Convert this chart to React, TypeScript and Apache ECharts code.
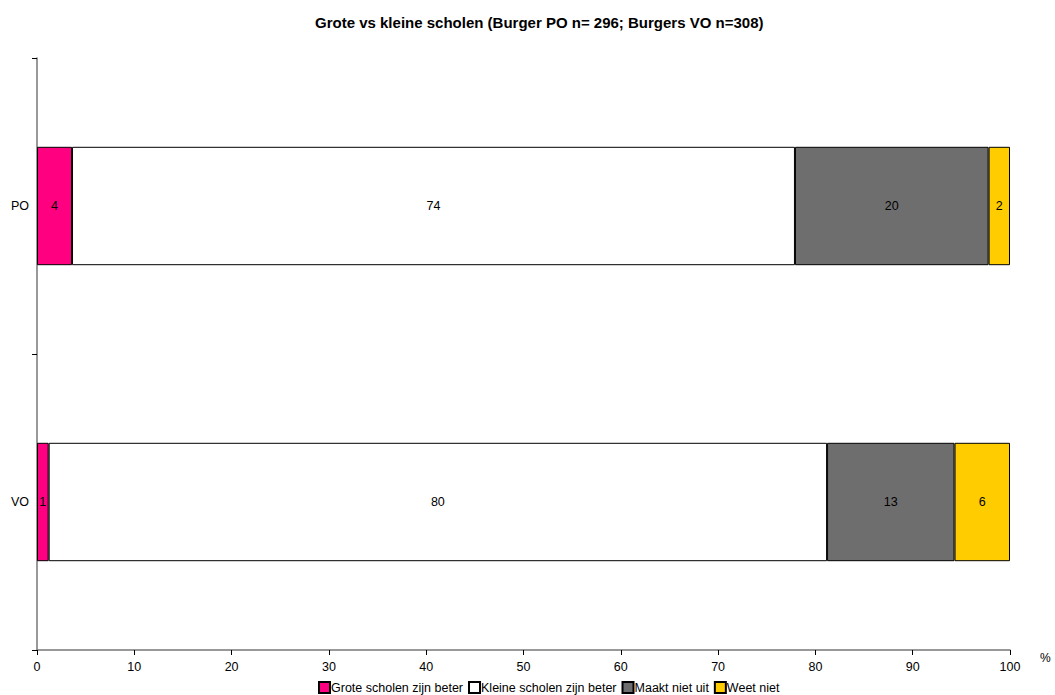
import React, { useEffect, useRef } from "react";
import * as echarts from "echarts";

const categories = ["PO", "VO"];
const seriesNames = [
  "Grote scholen zijn beter",
  "Kleine scholen zijn beter",
  "Maakt niet uit",
  "Weet niet",
];
const groteValues = [3.6, 1.2];
const kleineValues = [74.3, 80.0];
const maaktValues = [19.9, 13.1];
const weetValues = [2.2, 5.7];
const xTicks = [0, 10, 20, 30, 40, 50, 60, 70, 80, 90, 100];
const colors = ["#FF0080", "#FFFFFF", "#6E6E6E", "#FFCC00"];

const FONT = "'Liberation Sans', Arial, sans-serif";

export default function App() {
  const ref = useRef<HTMLDivElement>(null);
  useEffect(() => {
    if (!ref.current) return;
    const chart = echarts.init(ref.current, null, { renderer: "svg" });
    const values = [groteValues, kleineValues, maaktValues, weetValues];
    chart.setOption({
      animation: false,
      textStyle: { fontFamily: FONT, color: "#000" },
      title: {
        text: "Grote vs kleine scholen (Burger PO n= 296; Burgers VO n=308)",
        left: 310,
        top: 10,
        textStyle: { fontSize: 15, fontWeight: "bold", color: "#000", fontFamily: FONT },
      },
      legend: {
        top: 681,
        left: 318,
        padding: 0,
        itemWidth: 11,
        itemHeight: 11,
        itemGap: 5,
        icon: "rect",
        textStyle: { fontSize: 12.5, color: "#000", fontFamily: FONT, padding: [0, 0, 0, -4] },
        data: seriesNames,
      },
      grid: { left: 37, right: 45, top: 58, bottom: 45, containLabel: false },
      xAxis: {
        type: "value",
        min: xTicks[0],
        max: xTicks[xTicks.length - 1],
        interval: 10,
        name: "%",
        nameLocation: "end",
        nameGap: 30,
        nameTextStyle: { fontSize: 12, color: "#000", verticalAlign: "top", padding: [2, 0, 0, 0] },
        axisLine: { show: true, lineStyle: { color: "#777", width: 1.5 } },
        axisTick: { show: true, length: 5, lineStyle: { color: "#000" } },
        axisLabel: { fontSize: 12.5, color: "#000", margin: 10 },
        splitLine: { show: false },
      },
      yAxis: {
        type: "category",
        data: categories,
        inverse: true,
        axisLine: { show: true, lineStyle: { color: "#777", width: 1.5 } },
        axisTick: { show: true, length: 5, alignWithLabel: false, lineStyle: { color: "#000" } },
        axisLabel: { fontSize: 12.5, color: "#000", margin: 8 },
      },
      series: seriesNames.map((name, i) => ({
        name,
        type: "bar",
        stack: "total",
        barWidth: "40%",
        data: values[i],
        itemStyle: { color: colors[i], borderColor: "#000", borderWidth: 1 },
        label: {
          show: true,
          position: "inside",
          color: "#000",
          fontSize: 12.5,
          fontFamily: FONT,
          formatter: (p: any) => String(Math.round(p.value)),
        },
      })),
    });
    return () => chart.dispose();
  }, []);
  return (
    <div
      ref={ref}
      style={{ position: "absolute", left: 0, top: 0, width: 1055, height: 695 }}
    />
  );
}
